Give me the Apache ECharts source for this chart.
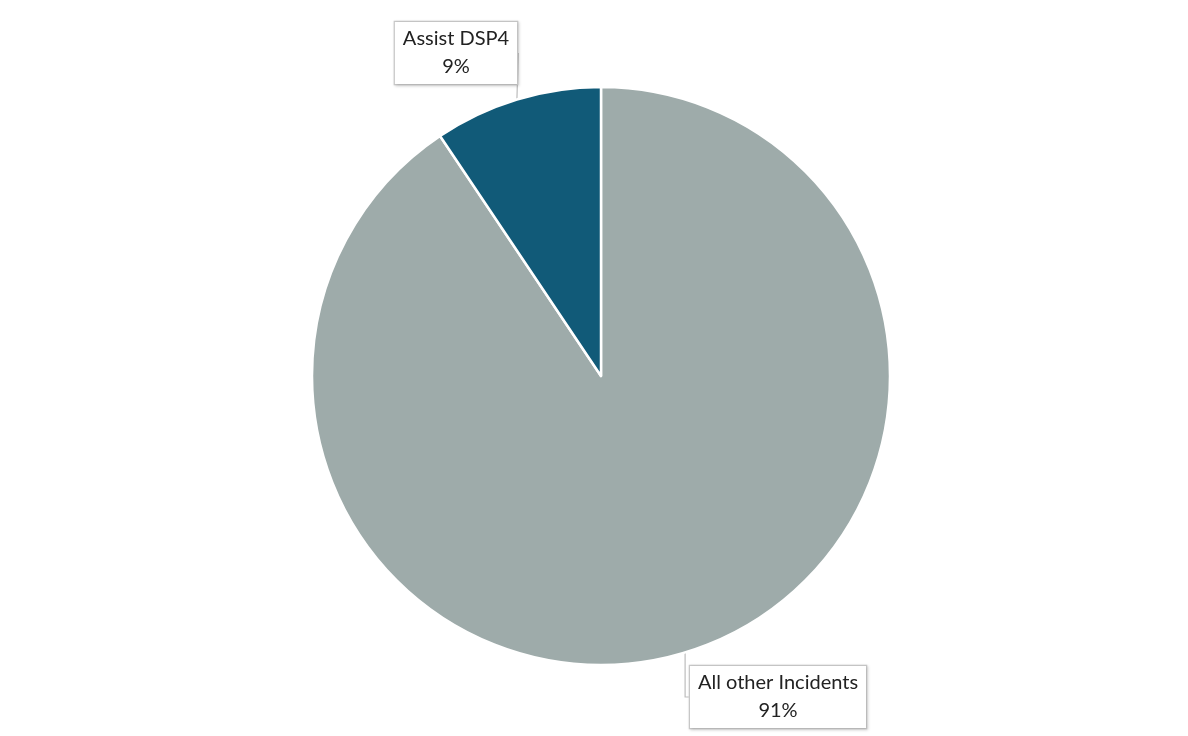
<!DOCTYPE html>
<html>
<head>
<meta charset="utf-8">
<script src="https://cdn.jsdelivr.net/npm/echarts@6/dist/echarts.min.js"></script>
<style>html,body{margin:0;padding:0;background:#fff;}#c{width:1188px;height:736px;}</style>
</head>
<body>
<div id="c"></div>
<script>
const categories = ['All other Incidents', 'Assist DSP4'];
const values = [90.6, 9.4];
const colors = ['#9eabaa', '#115a78'];

const labelPos = {
  'All other Incidents': { x: 778, y: 697 },
  'Assist DSP4': { x: 456, y: 53 }
};

const chart = echarts.init(document.getElementById('c'), null, { renderer: 'canvas' });
chart.setOption({
  animation: false,
  backgroundColor: '#ffffff',
  series: [{
    type: 'pie',
    center: [601, 376],
    radius: 289,
    startAngle: 90,
    clockwise: true,
    percentPrecision: 0,
    itemStyle: { borderColor: '#ffffff', borderWidth: 2.5 },
    data: categories.map((c, i) => ({ name: c, value: values[i], itemStyle: { color: colors[i] } })),
    label: {
      show: true,
      position: 'outside',
      formatter: '{b}\n{d}%',
      fontFamily: 'Lato, "Open Sans", sans-serif',
      fontSize: 20,
      lineHeight: 28,
      color: '#222',
      align: 'center',
      backgroundColor: '#ffffff',
      borderColor: '#c8c8c8',
      borderWidth: 1.2,
      padding: [3, 8, 3, 8],
      shadowColor: 'rgba(0,0,0,0.15)',
      shadowBlur: 3,
      shadowOffsetX: 1,
      shadowOffsetY: 1
    },
    labelLine: {
      show: true,
      length: 8,
      length2: 8,
      lineStyle: { color: '#bdbdbd', width: 1.2 }
    },
    labelLayout: function (params) {
      const name = categories[params.dataIndex];
      const p = labelPos[name];
      return { x: p.x, y: p.y, align: 'center', verticalAlign: 'middle' };
    }
  }]
});
</script>
</body>
</html>
